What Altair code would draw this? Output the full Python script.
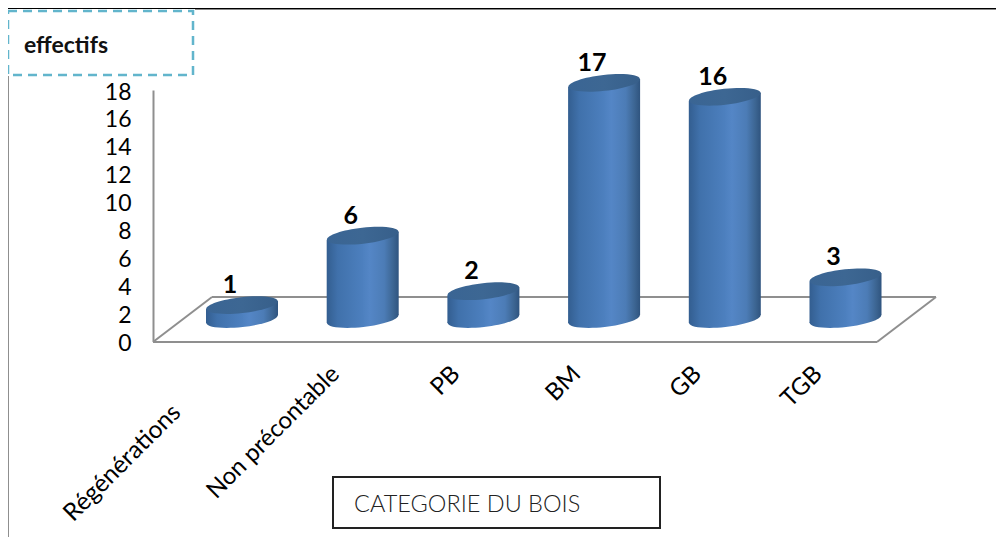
import altair as alt
import pandas as pd

categories = ["Régénérations", "Non précontable", "PB", "BM", "GB", "TGB"]
values = [1, 6, 2, 17, 16, 3]
y_ticks = [0, 2, 4, 6, 8, 10, 12, 14, 16, 18]
y_title = "effectifs"
x_title = "CATEGORIE DU BOIS"

FONT = "Lato"
GREY = "#8f8f8f"
df = pd.DataFrame({"cat": categories, "value": values})
ticks_df = pd.DataFrame({"t": y_ticks})
one = pd.DataFrame({"a": [0]})

# image pixels -> plot pixels (plot origin at image 153, 90)
px = lambda v: v - 153
py = lambda v: v - 90

x_scale = alt.Scale(domain=categories, range=[28.65, 752.85], paddingInner=0, paddingOuter=0)
axis_y_scale = alt.Scale(domain=[0, 18], range=[251, 0], nice=False)
bar_y_scale = alt.Scale(domain=[0, 18], range=[229, -21], nice=False)

ELLIPSE = "M-0.994,0.11 A1,0.222,-6.4,1,1,0.994,-0.11 A1,0.222,-6.4,1,1,-0.994,0.11 Z"
E_SIZE = 72 ** 2


def grad(stops):
    return alt.Gradient(gradient="linear", x1=0, x2=1, y1=0, y2=0,
                        stops=[alt.GradientStop(color=c, offset=o) for o, c in stops])


LEFT = [(0, "#335e90"), (0.3, "#4071ab"), (1, "#4d80bf")]
RIGHT = [(0, "#4d80bf"), (0.2, "#5486c6"), (0.6, "#4c7cb6"), (0.85, "#3c6592"), (1, "#2f547f")]
FULL = [(0, "#335e90"), (0.15, "#4071ab"), (0.5, "#4d80bf"), (0.6, "#5486c6"),
        (0.8, "#4c7cb6"), (0.93, "#3c6592"), (1, "#2f547f")]
TOP = [(0, "#3a6594"), (0.5, "#3d6793"), (1, "#375f8a")]


def rule(x1, y1, x2, y2, color=GREY, w=2):
    return alt.Chart(one).mark_rule(color=color, strokeWidth=w).encode(
        x=alt.value(px(x1)), x2=alt.value(px(x2)), y=alt.value(py(y1)), y2=alt.value(py(y2)))


def box(x1, y1, x2, y2, **kw):
    return alt.Chart(one).mark_rect(fill="#ffffff", **kw).encode(
        x=alt.value(px(x1)), x2=alt.value(px(x2)), y=alt.value(py(y1)), y2=alt.value(py(y2)))


def free_text(text, x, y, **kw):
    return alt.Chart(pd.DataFrame({"t": [text]})).mark_text(align="left", baseline="middle", **kw).encode(
        x=alt.value(px(x)), y=alt.value(py(y)), text="t:N")


X = alt.X("cat:N", scale=x_scale, sort=categories, title=None,
          axis=alt.Axis(domain=False, ticks=False, grid=False, labelAngle=315, labelAlign="right", labelBaseline="middle",
                        labelFont=FONT, labelFontSize=24, labelColor="#000000", labelPadding=29, labelOffset=-27,
                        labelOverlap=False, labelLimit=400, labelBound=False, labelFlush=False,
                        labelExpr="datum.value == 'Régénérations' ? '' : datum.label"))
Y_bar = alt.Y("value:Q", scale=bar_y_scale, axis=None, title=None)

# y axis carried by an invisible layer
y_axis = alt.Chart(ticks_df).mark_point(opacity=0).encode(
    y=alt.Y("t:Q", scale=axis_y_scale, title=None,
            axis=alt.Axis(values=y_ticks, ticks=False, grid=False, domainColor=GREY, domainWidth=2,
                          labelFont=FONT, labelFontSize=23, labelColor="#000000", labelPadding=22,
                          labelBaseline="middle", labelOffset=2, labelOverlap=False, labelBound=False,
                          labelFlush=False, format="d")))

floor = [rule(153, 342, 877, 342), rule(877, 342, 936, 297), rule(936, 297, 212, 297), rule(212, 297, 153, 342)]

body_left = alt.Chart(df).mark_bar(width=37, xOffset=-17.5, yOffset=4, y2Offset=4, fill=grad(LEFT)).encode(x=X, y=Y_bar)
body_right = alt.Chart(df).mark_bar(width=36, xOffset=18, yOffset=-4, y2Offset=-4, fill=grad(RIGHT)).encode(x=X, y=Y_bar)
bottom = alt.Chart(df).mark_point(filled=True, fill=grad(FULL), opacity=1, strokeWidth=0, shape=ELLIPSE, size=E_SIZE).encode(
    x=X, y=alt.Y("zero:Q", scale=bar_y_scale, axis=None, title=None)).transform_calculate(zero="0")
top = alt.Chart(df).mark_point(filled=True, fill=grad(TOP), opacity=1, strokeWidth=0, shape=ELLIPSE, size=E_SIZE).encode(
    x=X, y=Y_bar)
labels = alt.Chart(df).mark_text(font=FONT, fontSize=25, fontWeight="bold", color="#000000", dx=-12, dy=-20,
                                 baseline="middle").encode(x=X, y=Y_bar, text="value:Q")

reg_label = alt.Chart(df[df.cat == categories[0]]).mark_text(
    font=FONT, fontSize=24.5, color="#000000", angle=315, align="right", baseline="middle", xOffset=-65
).encode(x=X, y=alt.value(py(409)), text="cat:N")

decor = [
    rule(8, 8.5, 996, 8.5, color="#000000", w=1),
    rule(195, 9.5, 996, 9.5, color="#888888", w=1),
    rule(8.5, 76, 8.5, 537, color=GREY, w=1),
    box(8, 11, 193, 75, stroke="#62b5cc", strokeWidth=2.5, strokeDash=[9, 6]),
    free_text(y_title, 24, 46, font="Lato", fontSize=23, fontWeight="bold", color="#111111"),
    box(333, 477, 660, 528, stroke="#222222", strokeWidth=2),
    free_text(x_title, 354, 505, font=FONT, fontSize=23.5, fontWeight=300, color="#222222"),
]

layers = decor + [y_axis] + floor + [bottom, body_left, body_right, top, labels, reg_label]
chart = alt.layer(*layers).resolve_scale(y="independent").properties(
    width=843, height=251, autosize="none",
    padding={"left": 145, "top": 82, "right": 0, "bottom": 196}, background="#ffffff",
).configure_view(stroke=None)

chart.save("out.html", embed_options={"renderer": "svg", "actions": False})
